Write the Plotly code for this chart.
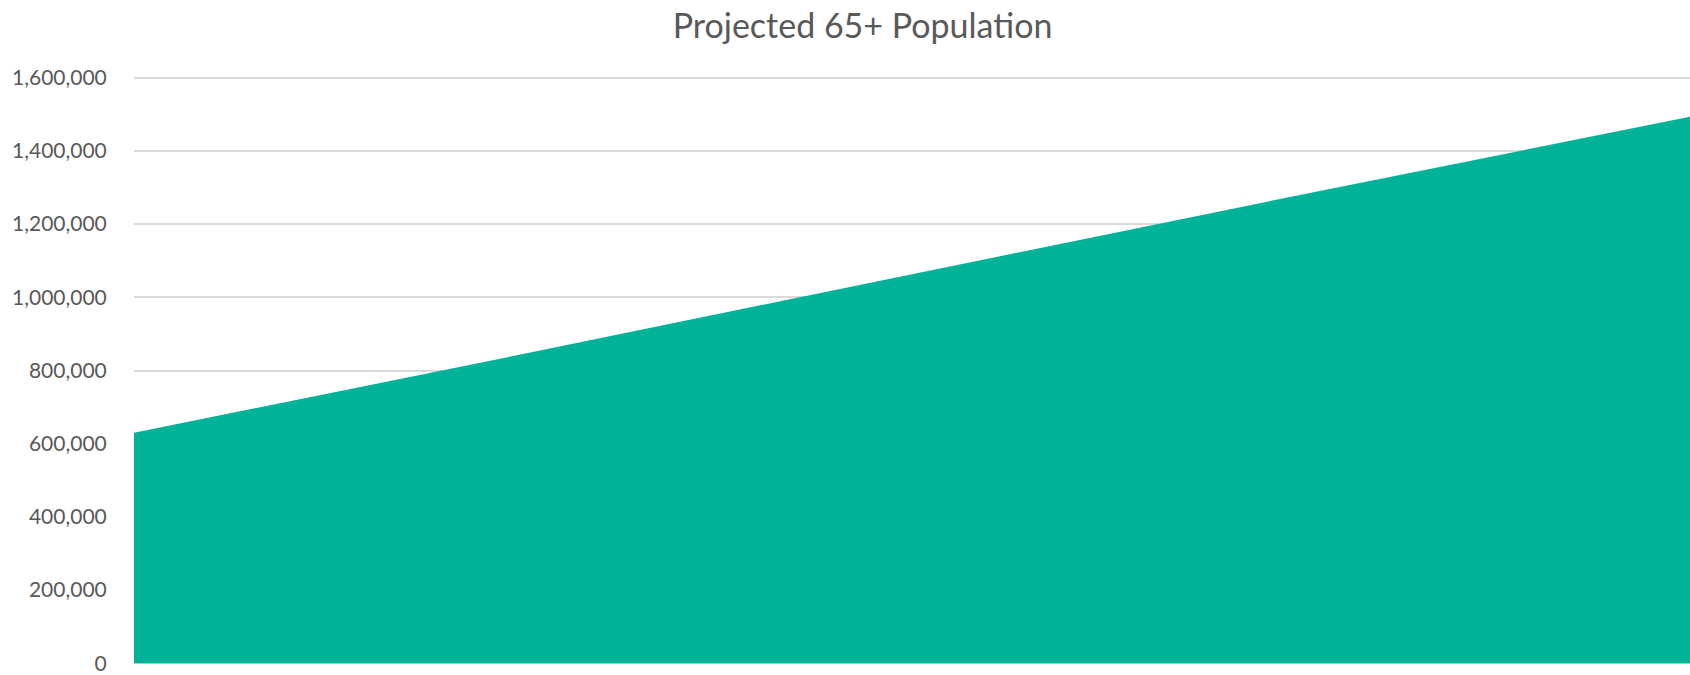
import plotly.graph_objects as go

categories = ["2020", "2025", "2030", "2035", "2040"]
population_65_plus = [630000, 845000, 1063000, 1280000, 1493000]
y_tick_values = [0, 200000, 400000, 600000, 800000, 1000000, 1200000, 1400000, 1600000]

fig = go.Figure()
fig.add_trace(go.Scatter(
    x=categories,
    y=population_65_plus,
    mode="lines",
    fill="tozeroy",
    fillcolor="#00B298",
    line=dict(color="#00B298", width=0),
    name="65+ Population",
    hoverinfo="x+y",
))

fig.update_layout(
    width=1690,
    height=675,
    paper_bgcolor="white",
    plot_bgcolor="white",
    showlegend=False,
    margin=dict(l=134, r=0, t=76, b=10),
    title=dict(
        text="Projected 65+ Population",
        x=0.5104,
        xanchor="center",
        xref="container",
        y=0.962,
        yanchor="middle",
        yref="container",
        font=dict(family="Lato", size=34, color="#595959"),
    ),
    font=dict(family="Lato", color="#595959"),
)

fig.update_xaxes(
    type="category",
    range=[0, len(categories) - 1],
    showticklabels=False,
    showgrid=False,
    zeroline=False,
    showline=False,
    ticks="",
)

fig.update_yaxes(
    range=[-4500, 1604500],
    tickvals=y_tick_values,
    tickformat=",",
    showgrid=True,
    gridcolor="#D9D9D9",
    gridwidth=1.5,
    zeroline=False,
    showline=False,
    ticks="outside",
    ticklen=22,
    tickcolor="rgba(0,0,0,0)",
    tickfont=dict(family="Lato", size=21, color="#595959"),
)

fig.write_html(
    "out.html",
    config={"displayModeBar": False},
    post_script="document.body.style.margin='0';document.body.style.overflow='hidden';",
)
